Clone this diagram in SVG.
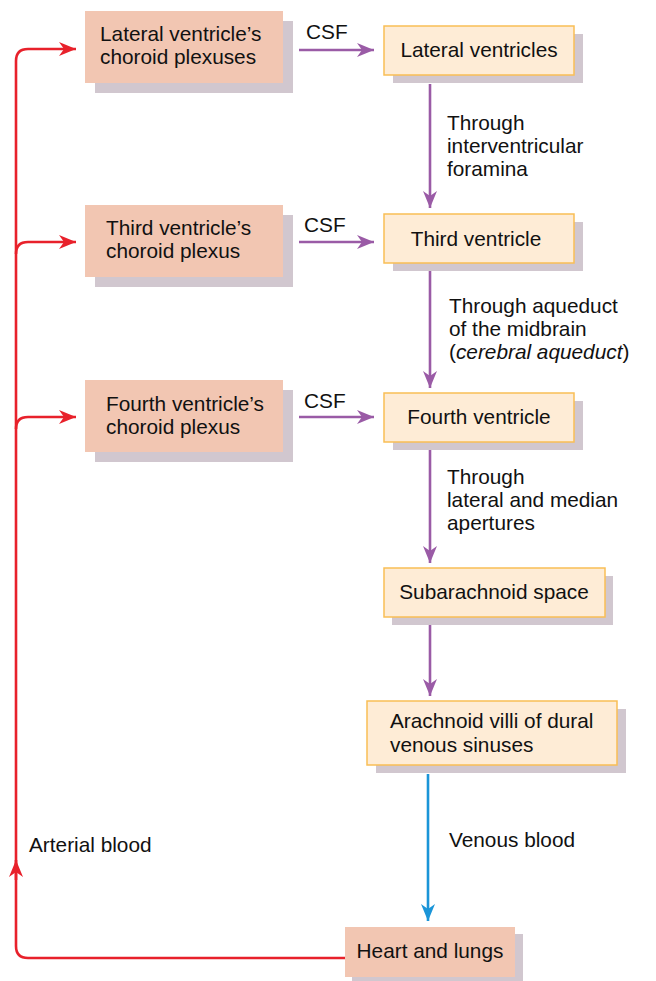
<svg xmlns="http://www.w3.org/2000/svg" width="656" height="981" viewBox="0 0 656 981">
<style>
text{font-family:"Liberation Sans",Arial,sans-serif;font-size:20.8px;fill:#111}
.shadow{fill:#D1C7CF}
.pink{fill:#F2C6B2}
.yel{fill:#FEECD6;stroke:#F9BE55;stroke-width:1.5}
.pur{stroke:#9A5BA6;stroke-width:2.6;fill:none;marker-end:url(#mp)}
.red{stroke:#E8212B;stroke-width:2.6;fill:none}
.blue{stroke:#1B95D8;stroke-width:2.6;fill:none;marker-end:url(#mb)}
</style>
<defs>
<marker id="mp" markerUnits="userSpaceOnUse" markerWidth="18" markerHeight="14" refX="17" refY="7" orient="auto"><path d="M0,0 L17,7 L0,14 L5,7 Z" fill="#9A5BA6"/></marker>
<marker id="mr" markerUnits="userSpaceOnUse" markerWidth="18" markerHeight="14" refX="17" refY="7" orient="auto"><path d="M0,0 L17,7 L0,14 L5,7 Z" fill="#E8212B"/></marker>
<marker id="mb" markerUnits="userSpaceOnUse" markerWidth="18" markerHeight="14" refX="17" refY="7" orient="auto"><path d="M0,0 L17,7 L0,14 L5,7 Z" fill="#1B95D8"/></marker>
</defs>
<g id="connectors">
<path class="red" d="M345,958 H28 Q16,958 16,946 V61 Q16,49 28,49 H76" marker-end="url(#mr)"/>
<path class="red" d="M16,254 Q16,242 28,242 H76" marker-end="url(#mr)"/>
<path class="red" d="M16,429 Q16,417 28,417 H76" marker-end="url(#mr)"/>
<path class="red" d="M16,880 V860" marker-end="url(#mr)"/>
<path class="pur" d="M299,50 H374"/>
<path class="pur" d="M299,242 H374"/>
<path class="pur" d="M299,417 H374"/>
<path class="pur" d="M430,84 V208"/>
<path class="pur" d="M430,264 V388"/>
<path class="pur" d="M430,443 V563"/>
<path class="pur" d="M430,625 V696"/>
<path class="blue" d="M428,774 V921"/>
<text x="306" y="39">CSF</text>
<text x="304" y="232">CSF</text>
<text x="304" y="408">CSF</text>
<text x="447" y="130">Through</text>
<text x="447" y="153">interventricular</text>
<text x="447" y="176">foramina</text>
<text x="449" y="313">Through aqueduct</text>
<text x="449" y="336">of the midbrain</text>
<text x="449" y="359">(<tspan font-style="italic">cerebral aqueduct</tspan>)</text>
<text x="447" y="484">Through</text>
<text x="447" y="507">lateral and median</text>
<text x="447" y="530">apertures</text>
<text x="449" y="847">Venous blood</text>
<text x="29" y="852">Arterial blood</text>
</g>
<g id="lat-choroid">
<rect class="shadow" x="95" y="21" width="198" height="72"/>
<rect class="pink" x="85" y="11" width="198" height="72"/>
<text x="100" y="41">Lateral ventricle’s</text>
<text x="100" y="64">choroid plexuses</text>
</g>
<g id="lat-ventricles">
<rect class="shadow" x="393" y="34" width="190" height="49"/>
<rect class="yel" x="384" y="26" width="190" height="49"/>
<text x="479" y="57" text-anchor="middle">Lateral ventricles</text>
</g>
<g id="third-choroid">
<rect class="shadow" x="95" y="215" width="198" height="72"/>
<rect class="pink" x="85" y="205" width="198" height="72"/>
<text x="106" y="235">Third ventricle’s</text>
<text x="106" y="258">choroid plexus</text>
</g>
<g id="third-ventricle">
<rect class="shadow" x="393" y="222" width="190" height="49"/>
<rect class="yel" x="384" y="214" width="190" height="49"/>
<text x="476" y="246" text-anchor="middle">Third ventricle</text>
</g>
<g id="fourth-choroid">
<rect class="shadow" x="95" y="390" width="198" height="72"/>
<rect class="pink" x="85" y="380" width="198" height="72"/>
<text x="106" y="411">Fourth ventricle’s</text>
<text x="106" y="434">choroid plexus</text>
</g>
<g id="fourth-ventricle">
<rect class="shadow" x="393" y="401" width="190" height="49"/>
<rect class="yel" x="384" y="393" width="190" height="49"/>
<text x="479" y="424" text-anchor="middle">Fourth ventricle</text>
</g>
<g id="subarachnoid">
<rect class="shadow" x="392" y="576" width="221" height="49"/>
<rect class="yel" x="384" y="568" width="221" height="49"/>
<text x="494" y="599" text-anchor="middle">Subarachnoid space</text>
</g>
<g id="arachnoid-villi">
<rect class="shadow" x="376" y="709" width="250" height="64"/>
<rect class="yel" x="367" y="701" width="250" height="64"/>
<text x="390" y="728">Arachnoid villi of dural</text>
<text x="390" y="752">venous sinuses</text>
</g>
<g id="heart-lungs">
<rect class="shadow" x="352" y="934" width="171" height="47"/>
<rect class="pink" x="345" y="927" width="170" height="50"/>
<text x="430" y="958" text-anchor="middle">Heart and lungs</text>
</g>
</svg>
